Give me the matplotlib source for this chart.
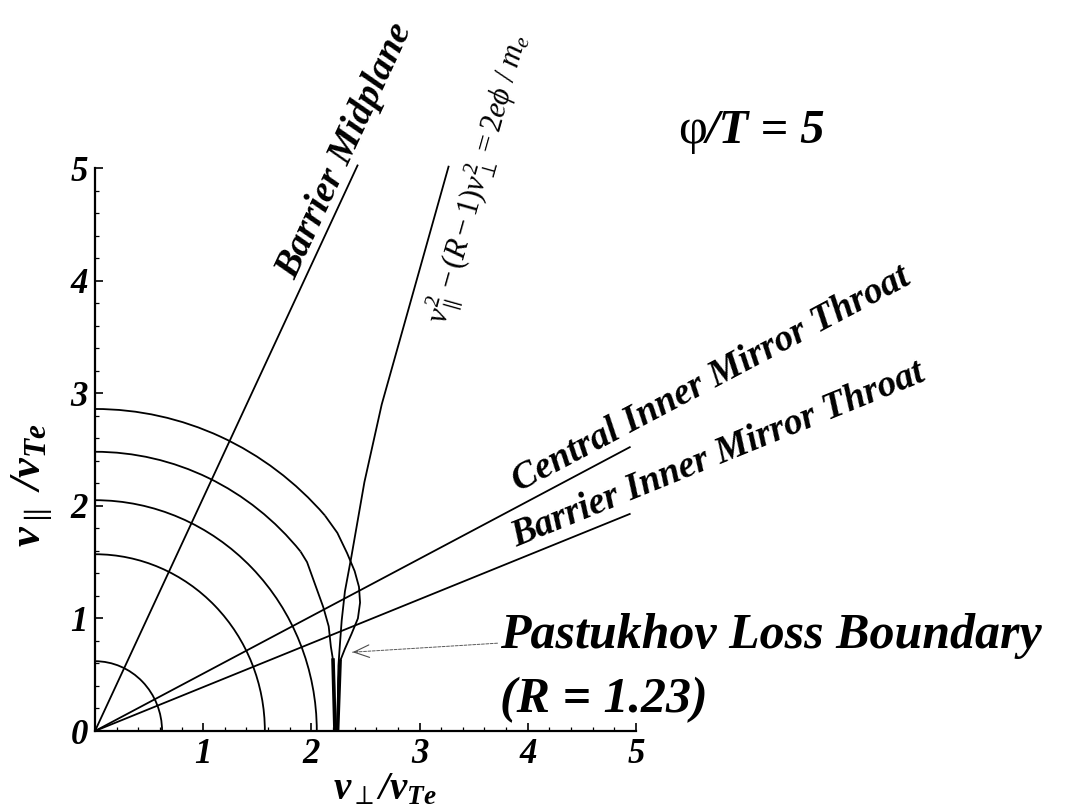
import numpy as np
import matplotlib.pyplot as plt
from matplotlib.patches import Arc
from matplotlib.ticker import MultipleLocator

plt.rcParams['font.family'] = 'Liberation Serif'
plt.rcParams['mathtext.fontset'] = 'custom'
plt.rcParams['mathtext.rm'] = 'Liberation Serif'
plt.rcParams['mathtext.it'] = 'Liberation Serif:italic'
plt.rcParams['mathtext.bf'] = 'Liberation Serif:bold:italic'

# constant-energy circles, radius in units of v_Te
circle_radii = [0.62, 1.57, 2.05]

# energy contours that bend into the loss boundary: circle down to a break angle, then traced tail
inner_radius, inner_break_deg = 2.48, 40
inner_tail_x = [1.96, 2.02, 2.11, 2.16, 2.18, 2.20, 2.21, 2.218]
inner_tail_y = [1.50, 1.34, 1.10, 0.93, 0.75, 0.63, 0.45, 0.0]
outer_radius, outer_break_deg = 2.86, 42
outer_tail_x = [2.24, 2.33, 2.40, 2.44, 2.45, 2.43, 2.37, 2.31, 2.265, 2.25, 2.242]
outer_tail_y = [1.76, 1.58, 1.42, 1.28, 1.14, 1.00, 0.86, 0.73, 0.62, 0.45, 0.0]

# v_par^2 - (R-1) v_perp^2 = 2 e phi / m_e
hyper_x = [2.242, 2.25, 2.26, 2.28, 2.31, 2.37, 2.49, 2.65, 2.96, 3.27]
hyper_y = [0.0, 0.58, 0.72, 0.98, 1.24, 1.55, 2.21, 2.90, 3.96, 5.02]

# straight boundaries through the origin: slope and x of the far end
midplane_slope, midplane_end = 2.07, 2.43
central_slope, central_end = 0.51, 4.95
barrier_slope, barrier_end = 0.39, 4.95

# arrow to the loss boundary (tail, head)
arrow_tail = (3.72, 0.78)
arrow_head = (2.38, 0.70)

xticks = [1, 2, 3, 4, 5]
yticks = [0, 1, 2, 3, 4, 5]

fig = plt.figure(figsize=(10.66, 8.09), dpi=100)
ax = fig.add_axes([0.0891, 0.0964, 0.5075, 0.6959])
ax.set_xlim(0, 5)
ax.set_ylim(0, 5)

lw = 1.3
kw = dict(color='black', lw=lw, clip_on=False, solid_capstyle='butt')

for r in circle_radii:
    ax.add_patch(Arc((0, 0), 2 * r, 2 * r, theta1=0, theta2=90, color='black', lw=lw))

for r, brk, tx, ty in [(inner_radius, inner_break_deg, inner_tail_x, inner_tail_y),
                       (outer_radius, outer_break_deg, outer_tail_x, outer_tail_y)]:
    ax.add_patch(Arc((0, 0), 2 * r, 2 * r, theta1=brk, theta2=90, color='black', lw=lw))
    bx, by = r * np.cos(np.radians(brk)), r * np.sin(np.radians(brk))
    ax.plot([bx] + tx, [by] + ty, **kw)

ax.plot(hyper_x, hyper_y, **kw)
# thick stem where the contours meet the axis
ax.plot([inner_tail_x[-3], inner_tail_x[-1]], [inner_tail_y[-3], inner_tail_y[-1]], color='black', lw=2.6)
ax.plot([outer_tail_x[-3], outer_tail_x[-1]], [outer_tail_y[-3], outer_tail_y[-1]], color='black', lw=2.6)

for s, xe in [(midplane_slope, midplane_end), (central_slope, central_end), (barrier_slope, barrier_end)]:
    xs = np.array([0, xe])
    ax.plot(xs, s * xs, **kw)

ax.annotate('', xy=arrow_head, xytext=arrow_tail,
            arrowprops=dict(arrowstyle='-', lw=0.7, color='0.35', linestyle=(0, (3, 1.5)),
                            shrinkA=0, shrinkB=0))
ax.annotate('', xy=arrow_head, xytext=(arrow_head[0] + 0.05, arrow_head[1] + 0.003),
            arrowprops=dict(arrowstyle='->,head_length=1.1,head_width=0.45', lw=0.8, color='0.3',
                            shrinkA=0, shrinkB=0))

for side in ['top', 'right']:
    ax.spines[side].set_visible(False)
for side in ['left', 'bottom']:
    ax.spines[side].set_linewidth(1.6)

ax.set_xticks(xticks)
ax.set_yticks(yticks)
ax.xaxis.set_minor_locator(MultipleLocator(0.2))
ax.yaxis.set_minor_locator(MultipleLocator(0.2))
ax.tick_params(which='major', direction='in', length=6, width=1.2, pad=5, labelsize=25)
ax.tick_params(which='minor', direction='in', length=3, width=0.9)
for lab in ax.get_xticklabels() + ax.get_yticklabels():
    lab.set_fontstyle('italic')
    lab.set_fontweight('bold')


def along_line(text, x0, y0, x1, y1, off_px, size, va='baseline', side=1, **tkw):
    p0 = ax.transData.transform((x0, y0))
    p1 = ax.transData.transform((x1, y1))
    a = np.arctan2(p1[1] - p0[1], p1[0] - p0[0])
    off = off_px * 0.72 * side
    ax.annotate(text, xy=(x0, y0), xytext=(-np.sin(a) * off, np.cos(a) * off),
                textcoords='offset points', rotation=np.degrees(a), rotation_mode='anchor',
                ha='left', va=va, fontsize=size, annotation_clip=False, **tkw)


x0 = 1.92
along_line('Barrier Midplane', x0, midplane_slope * x0, x0 + 1, midplane_slope * (x0 + 1),
           8, 27.5, style='italic', weight='bold')
x0 = 3.97
along_line('Central Inner Mirror Throat', x0, central_slope * x0, x0 + 1, central_slope * (x0 + 1),
           12, 27, style='italic', weight='bold')
x0 = 3.94
along_line('Barrier Inner Mirror Throat', x0, barrier_slope * x0, x0 + 1, barrier_slope * (x0 + 1),
           12, 27, style='italic', weight='bold')
yf = 3.70
xf = np.interp(yf, hyper_y, hyper_x)
along_line(r'$v_{\parallel}^{2} - (R-1)v_{\perp}^{2} = 2e\phi\ /\ m_{e}$', xf, yf,
           hyper_x[-1], hyper_y[-1], 12, 22, va='top', side=-1)

fig.text(0.361, 0.0235, r'$\mathbf{v}_{\perp}\mathbf{/v}_{\mathbf{Te}}$', fontsize=28,
         ha='center', va='center')
fig.text(0.030, 0.40, r'$\mathbf{v}_{\parallel}\ \mathbf{/v}_{\mathbf{Te}}$', fontsize=32,
         ha='center', va='center', rotation=90)

fig.text(0.636, 0.823, '\u03c6', fontsize=36, ha='left', va='baseline')
fig.text(0.662, 0.823, '/T = 5', fontsize=35, ha='left', va='baseline',
         style='italic', weight='bold')
fig.text(0.469, 0.199, 'Pastukhov Loss Boundary', fontsize=36, ha='left', va='baseline',
         style='italic', weight='bold')
fig.text(0.469, 0.12, '(R = 1.23)', fontsize=36, ha='left', va='baseline',
         style='italic', weight='bold')

fig.savefig('out.png', dpi=100)
